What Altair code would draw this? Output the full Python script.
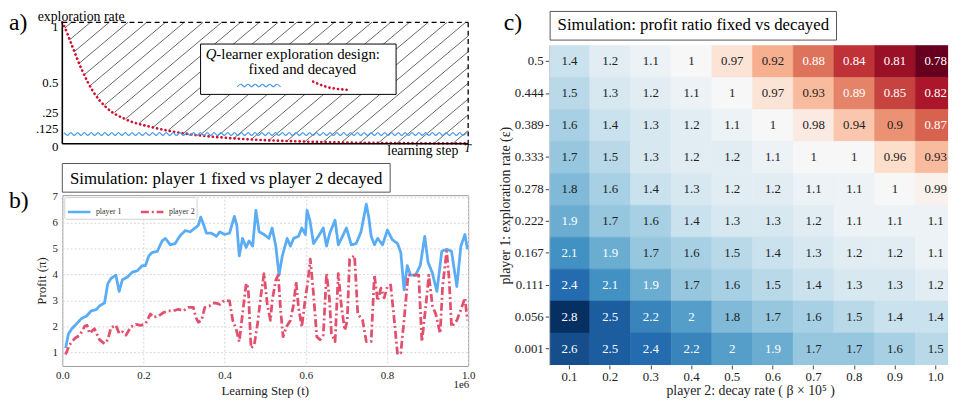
import altair as alt
import numpy as np
import pandas as pd

SERIF = "Liberation Serif"
BLUE = "#5aacf5"
RED = "#e2506e"
DOT_RED = "#d0102e"
WAVE_BLUE = "#4a98e6"

# ---------------- panel a: schematic of exploration designs ----------------
decay_x = [0.0, 0.003, 0.023, 0.048, 0.076, 0.108, 0.157, 0.222, 0.30, 0.416, 0.578, 0.74, 1.0]
decay_eps = [1.0, 0.98, 0.815, 0.61, 0.43, 0.30, 0.20, 0.136, 0.085, 0.046, 0.02, 0.008, 0.003]
fixed_eps = 0.08
a_tick_vals = [1, 0.5, 0.25, 0.125, 0]
a_tick_text = ["1", "0.5", ".25", ".125", "0"]

# ---------------- panel b: simulated profits ----------------
p1_t = [0.008, 0.015, 0.023, 0.035, 0.047, 0.06, 0.071, 0.084, 0.092, 0.104,
        0.112, 0.12, 0.132, 0.14, 0.148, 0.16, 0.173, 0.185, 0.197, 0.205,
        0.213, 0.221, 0.234, 0.246, 0.254, 0.266, 0.278, 0.29, 0.303, 0.315,
        0.327, 0.335, 0.341, 0.347, 0.355, 0.367, 0.38, 0.388, 0.4, 0.412,
        0.424, 0.43, 0.436, 0.444, 0.453, 0.46, 0.469, 0.477, 0.485, 0.497,
        0.509, 0.517, 0.526, 0.534, 0.542, 0.554, 0.562, 0.57, 0.582, 0.59,
        0.599, 0.603, 0.61, 0.619, 0.631, 0.643, 0.651, 0.659, 0.672, 0.68,
        0.688, 0.7, 0.712, 0.724, 0.736, 0.749, 0.755, 0.761, 0.769, 0.777,
        0.789, 0.801, 0.813, 0.826, 0.834, 0.842, 0.85, 0.858, 0.87, 0.882,
        0.893, 0.901, 0.911, 0.923, 0.935, 0.947, 0.959, 0.972, 0.982, 0.992,
        0.998]
p1_v = [1.16, 1.7, 1.9, 2.1, 2.3, 2.4, 2.6, 2.65, 2.8, 2.9,
        3.65, 3.85, 3.98, 3.35, 3.8, 3.9, 4.1, 4.15, 4.35, 4.35,
        4.72, 4.85, 4.9, 5.3, 5.4, 5.15, 5.2, 5.5, 5.7, 5.65,
        5.8, 5.9, 6.22, 5.98, 5.6, 5.6, 5.48, 5.65, 5.55, 5.6,
        6.25, 5.9, 4.72, 5.4, 5.05, 5.3, 5.1, 6.48, 5.65, 5.55,
        5.4, 5.8, 5.1, 3.98, 4.72, 5.4, 5.1, 5.4, 5.48, 5.8,
        5.55, 6.48, 6.1, 5.2, 5.48, 5.8, 5.1, 5.6, 6.1, 5.15,
        5.4, 5.8, 5.15, 5.2, 5.65, 6.72, 6.22, 5.48, 5.15, 5.4,
        5.15, 5.72, 5.35, 5.2, 4.85, 3.41, 4.35, 3.98, 3.98, 4.35,
        5.48, 4.48, 4.1, 3.35, 4.9, 4.98, 4.9, 3.54, 5.1, 5.55,
        4.98]
p2_t = [0.008, 0.018, 0.031, 0.043, 0.055, 0.061, 0.067, 0.079, 0.092, 0.104,
        0.112, 0.12, 0.132, 0.14, 0.148, 0.157, 0.169, 0.181, 0.193, 0.205,
        0.217, 0.225, 0.238, 0.25, 0.262, 0.274, 0.286, 0.298, 0.311, 0.323,
        0.329, 0.335, 0.343, 0.351, 0.363, 0.376, 0.388, 0.4, 0.412, 0.42,
        0.428, 0.436, 0.444, 0.453, 0.458, 0.465, 0.473, 0.481, 0.489, 0.497,
        0.505, 0.513, 0.517, 0.526, 0.532, 0.538, 0.544, 0.552, 0.562, 0.57,
        0.576, 0.582, 0.59, 0.599, 0.605, 0.611, 0.619, 0.627, 0.635, 0.643,
        0.651, 0.658, 0.663, 0.672, 0.68, 0.688, 0.696, 0.702, 0.708, 0.72,
        0.728, 0.74, 0.749, 0.761, 0.769, 0.777, 0.785, 0.793, 0.801, 0.809,
        0.818, 0.826, 0.834, 0.842, 0.852, 0.866, 0.878, 0.886, 0.896, 0.903,
        0.912, 0.92, 0.931, 0.937, 0.947, 0.953, 0.959, 0.972, 0.984, 0.992,
        0.998]
p2_v = [0.91, 1.29, 1.54, 1.66, 2.0, 2.04, 1.73, 1.91, 1.48, 1.33,
        1.48, 1.95, 2.04, 1.73, 1.79, 1.66, 1.98, 2.08, 2.04, 2.1,
        2.48, 2.35, 2.41, 2.54, 2.6, 2.6, 2.66, 2.6, 2.73, 2.73,
        2.35, 2.16, 2.23, 2.73, 2.79, 2.91, 2.85, 3.01, 2.98, 2.23,
        1.91, 1.41, 2.48, 3.66, 3.48, 1.16, 1.29, 2.1, 3.16, 4.04,
        2.85, 2.23, 2.98, 3.79, 3.98, 2.6, 1.6, 1.98, 2.23, 2.85,
        3.73, 2.73, 1.98, 3.1, 3.73, 4.6, 3.23, 1.6, 1.48, 1.66,
        4.04, 3.1, 1.73, 1.41, 4.04, 2.73, 1.85, 2.23, 4.6, 4.73,
        2.48, 2.23, 1.41, 1.41, 3.98, 2.98, 3.48, 3.1, 3.54, 3.6,
        2.23, 0.91, 0.98, 2.23, 3.98, 3.98, 3.98, 1.41, 2.85, 3.98,
        2.79, 2.48, 1.73, 3.54, 4.9, 3.85, 1.98, 2.23, 2.73, 3.1,
        2.23]
series_names = ["player 1", "player 2"]
b_xticks = [0.0, 0.2, 0.4, 0.6, 0.8, 1.0]
b_yticks = [1, 2, 3, 4, 5, 6, 7]

# ---------------- panel c: profit ratio heatmap ----------------
eps_labels = ["0.5", "0.444", "0.389", "0.333", "0.278", "0.222", "0.167", "0.111", "0.056", "0.001"]
decay_labels = ["0.1", "0.2", "0.3", "0.4", "0.5", "0.6", "0.7", "0.8", "0.9", "1.0"]
ratio = [
    [1.4, 1.2, 1.1, 1, 0.97, 0.92, 0.88, 0.84, 0.81, 0.78],
    [1.5, 1.3, 1.2, 1.1, 1, 0.97, 0.93, 0.89, 0.85, 0.82],
    [1.6, 1.4, 1.3, 1.2, 1.1, 1, 0.98, 0.94, 0.9, 0.87],
    [1.7, 1.5, 1.3, 1.2, 1.2, 1.1, 1, 1, 0.96, 0.93],
    [1.8, 1.6, 1.4, 1.3, 1.2, 1.2, 1.1, 1.1, 1, 0.99],
    [1.9, 1.7, 1.6, 1.4, 1.3, 1.3, 1.2, 1.1, 1.1, 1.1],
    [2.1, 1.9, 1.7, 1.6, 1.5, 1.4, 1.3, 1.2, 1.2, 1.1],
    [2.4, 2.1, 1.9, 1.7, 1.6, 1.5, 1.4, 1.3, 1.3, 1.2],
    [2.8, 2.5, 2.2, 2, 1.8, 1.7, 1.6, 1.5, 1.4, 1.4],
    [2.6, 2.5, 2.4, 2.2, 2, 1.9, 1.7, 1.7, 1.6, 1.5],
]
rdbu = ["#67001f", "#b2182b", "#d6604d", "#f4a582", "#fddbc7", "#f7f7f7",
        "#d1e5f0", "#92c5de", "#4393c3", "#2166ac", "#053061"]
c_min, c_mid, c_max = 0.78, 1.0, 2.8

# ======================= layout constants =======================
AW, AH = 411, 123
BW, BH = 411, 173
CW, CH = 404, 347
C_RANGE = 412
C_TOP = 23.5
TOP = -12

one = pd.DataFrame({"k": [0]})


def txt(s, x, y, size, align="left", style="normal", color="black", baseline="alphabetic"):
    return alt.Chart(one).mark_text(
        text=s, font=SERIF, fontSize=size, align=align, baseline=baseline,
        fontStyle=style, color=color
    ).encode(x=alt.value(x), y=alt.value(y))


def box(x1, x2, y1, y2, stroke="black"):
    return alt.Chart(one).mark_rect(fill="white", stroke=stroke, strokeWidth=1).encode(
        x=alt.value(x1), x2=alt.value(x2), y=alt.value(y1), y2=alt.value(y2))


def anchor(x1, x2, y1, y2):
    # invisible layout anchor, fixes the panel's outer bounds
    return alt.Chart(one).mark_rule(strokeOpacity=0, strokeWidth=1).encode(
        x=alt.value(x1), x2=alt.value(x2), y=alt.value(y1), y2=alt.value(y2))


# ---------- panel a ----------
xa = alt.Scale(domain=[0, 1], nice=False, zero=False)
ya = alt.Scale(domain=[0, 1], nice=False, zero=False)

# hatch pattern above the decay curve (decoration derived from the curve)
gx = np.linspace(0, 1, 3001)
gc = np.interp(gx, decay_x, decay_eps) * AH
gpx = gx * AW
slope, gap = 0.84, 19
segs = []
for c0 in np.arange(-AH / slope + gap * 0.5, AW, gap):
    ly = slope * (gpx - c0)
    above = np.nonzero(ly >= gc)[0]
    if len(above) == 0:
        continue
    xs, ys = gpx[above[0]], ly[above[0]]
    xe = min(c0 + AH / slope, AW)
    ye = slope * (xe - c0)
    if xe - xs < 2:
        continue
    segs.append(dict(x1=xs / AW, y1=ys / AH, x2=xe / AW, y2=ye / AH))
hatch_df = pd.DataFrame(segs)

n_half = 118
wave_df = pd.DataFrame({
    "x": np.linspace(0.004, 0.996, n_half + 1),
    "e": [fixed_eps + (0.011 if i % 2 == 0 else -0.011) for i in range(n_half + 1)],
})
decay_df = pd.DataFrame({"x": decay_x, "e": decay_eps})
atick_df = pd.DataFrame({"v": a_tick_vals, "t": a_tick_text})

# legend samples (pixel layout -> data coords)
lw_px = np.linspace(177, 221, 13)
legwave_df = pd.DataFrame({
    "x": lw_px / AW,
    "e": [1 - (64 + (1.3 if i % 2 == 0 else -1.3)) / AH for i in range(13)],
})
legred_df = pd.DataFrame({
    "x": np.array([254, 262, 270, 279, 288]) / AW,
    "e": 1 - np.array([60, 63.5, 66, 67.5, 68.3]) / AH,
})

hatch = alt.Chart(hatch_df).mark_rule(color="black", strokeWidth=0.6).encode(
    x=alt.X("x1:Q", scale=xa, axis=None), y=alt.Y("y1:Q", scale=ya, axis=None),
    x2="x2:Q", y2="y2:Q")
decay_line = alt.Chart(decay_df).mark_line(
    color=DOT_RED, strokeWidth=2.7, strokeDash=[0.1, 4.3], strokeCap="round", interpolate="monotone"
).encode(x=alt.X("x:Q", scale=xa, axis=None), y=alt.Y("e:Q", scale=ya, axis=None))
wave_line = alt.Chart(wave_df).mark_line(color=WAVE_BLUE, strokeWidth=1.2, interpolate="monotone").encode(
    x=alt.X("x:Q", scale=xa, axis=None), y=alt.Y("e:Q", scale=ya, axis=None))
left_rule = alt.Chart(one).mark_rule(color="black", strokeWidth=1.6).encode(
    x=alt.value(0), y=alt.value(0), y2=alt.value(AH))
bottom_rule = alt.Chart(one).mark_rule(color="black", strokeWidth=1.6).encode(
    x=alt.value(0), x2=alt.value(AW), y=alt.value(AH))
top_rule = alt.Chart(one).mark_rule(color="black", strokeWidth=1.3, strokeDash=[5, 3.5]).encode(
    x=alt.value(0), x2=alt.value(AW), y=alt.value(0))
right_rule = alt.Chart(one).mark_rule(color="black", strokeWidth=1.3, strokeDash=[5, 3.5]).encode(
    x=alt.value(AW), y=alt.value(0), y2=alt.value(AH))
leg_box = box(140, 338, 22, 73)
leg_wave = alt.Chart(legwave_df).mark_line(color=WAVE_BLUE, strokeWidth=1.2, interpolate="monotone").encode(
    x=alt.X("x:Q", scale=xa, axis=None), y=alt.Y("e:Q", scale=ya, axis=None))
leg_red = alt.Chart(legred_df).mark_line(
    color=DOT_RED, strokeWidth=2.7, strokeDash=[0.1, 4.3], strokeCap="round", interpolate="monotone"
).encode(x=alt.X("x:Q", scale=xa, axis=None), y=alt.Y("e:Q", scale=ya, axis=None))


def a_tick_layer(df, dy):
    return alt.Chart(df).mark_text(font=SERIF, fontSize=13, align="right", baseline="middle", dy=dy).encode(
        x=alt.value(-4), y=alt.Y("v:Q", scale=ya, axis=None), text="t:N")


a_ticks_top = a_tick_layer(atick_df[atick_df["v"] == 1], 5)
a_ticks_mid = a_tick_layer(atick_df[(atick_df["v"] > 0) & (atick_df["v"] < 1)], 0)
a_ticks_bot = a_tick_layer(atick_df[atick_df["v"] == 0], 3)

chart_a = alt.layer(
    anchor(0, 1, TOP, TOP), anchor(AW + 12, AW + 12, 0, 1), anchor(0, 1, AH + 14, AH + 14),
    anchor(-54, -54, 0, 1),
    hatch, decay_line, wave_line, left_rule, bottom_rule, top_rule, right_rule,
    leg_box, leg_wave, leg_red, a_ticks_top, a_ticks_mid, a_ticks_bot,
    txt("exploration rate", -25, -1, 14),
    txt("learning step", 401, AH + 11, 14, align="right"),
    txt("T", 407, AH + 8, 12, style="italic"),
    txt("Q", 156, 37, 15, align="right", style="italic"),
    txt("-learner exploration design:", 156, 37, 15),
    txt("fixed and decayed", 243, 52, 15, align="center"),
    txt("a)", -54, 8, 24),
).properties(width=AW, height=AH, view=alt.ViewBackground(stroke=None))

# ---------- panel b ----------
b_df = pd.concat([
    pd.DataFrame({"t": p1_t, "p": p1_v, "series": series_names[0]}),
    pd.DataFrame({"t": p2_t, "p": p2_v, "series": series_names[1]}),
])
leg = alt.Legend(orient="top-left", direction="horizontal", title=None, offset=2,
                 labelFont=SERIF, labelFontSize=8, labelColor="#333",
                 symbolType="stroke", symbolSize=520, symbolStrokeWidth=2.5,
                 columnPadding=14, padding=2, fillColor="white", strokeColor="#d0d0d0",
                 cornerRadius=2)
b_lines = alt.Chart(b_df).mark_line(strokeWidth=2.8, strokeJoin="round").encode(
    x=alt.X("t:Q", scale=alt.Scale(domain=[0, 1], nice=False, zero=False),
            axis=alt.Axis(values=b_xticks, format=".1f", title=None,
                          grid=True, gridDash=[2, 2], gridColor="#d6d6d6", domain=False, ticks=False,
                          labelFont=SERIF, labelFontSize=11, labelPadding=4, labelFlush=False,
                          labelColor="#222")),
    y=alt.Y("p:Q", scale=alt.Scale(domain=[0.47, 7.07], nice=False, zero=False),
            axis=alt.Axis(values=b_yticks, format="d", title="Profit (π)",
                          grid=True, gridDash=[2, 2], gridColor="#d6d6d6", domain=False, ticks=False,
                          labelFont=SERIF, labelFontSize=11, labelPadding=5,
                          titleFont=SERIF, titleFontSize=13, titleFontWeight="normal", titlePadding=4,
                          labelColor="#222", titleColor="#222")),
    color=alt.Color("series:N", scale=alt.Scale(domain=series_names, range=[BLUE, RED]), legend=leg),
    strokeDash=alt.StrokeDash("series:N", scale=alt.Scale(domain=series_names, range=[[1, 0], [8, 3, 2, 3]]),
                              legend=leg),
)
chart_b = alt.layer(
    anchor(0, 1, -34, -34), anchor(-54, -54, 0, 1), anchor(AW + 12, AW + 12, 0, 1),
    b_lines,
    box(0, 332, -32, -3, stroke="#555"),
    txt("Simulation: player 1 fixed vs player 2 decayed", 166, -11, 17, align="center"),
    txt("1e6", BW + 1, BH + 22, 11, align="right", color="#222"),
    txt("Learning Step (t)", BW / 2, BH + 29, 13, align="center", color="#222"),
    txt("b)", -54, 13, 24),
).properties(width=BW, height=BH, view=alt.ViewBackground(stroke="#9a9a9a", strokeWidth=1))

# ---------- panel c ----------
rows = []
for i, e in enumerate(eps_labels):
    for j, d in enumerate(decay_labels):
        rows.append({"eps": e, "decay": d, "v": ratio[i][j]})
c_df = pd.DataFrame(rows)
stops = [c_min + k * (c_mid - c_min) / 5 for k in range(6)] + [c_mid + k * (c_max - c_mid) / 5 for k in range(1, 6)]
cscale = alt.Scale(domain=stops, range=rdbu, interpolate="rgb")

c_base = alt.Chart(c_df).encode(
    x=alt.X("decay:N", sort=decay_labels,
            scale=alt.Scale(range=[0, C_RANGE], paddingInner=0, paddingOuter=0),
            axis=alt.Axis(title=None, labelAngle=0, domain=False,
                          tickSize=4, tickColor="#444", labelFont=SERIF, labelFontSize=13,
                          labelPadding=2, labelColor="#222")),
    y=alt.Y("eps:N", sort=eps_labels,
            scale=alt.Scale(range=[C_TOP, CH], paddingInner=0, paddingOuter=0),
            axis=alt.Axis(title="player 1: exploration rate (ε)", domain=True, domainColor="#cccccc",
                          tickSize=4, tickColor="#444", labelFont=SERIF, labelFontSize=13,
                          labelPadding=2, titleFont=SERIF, titleFontSize=14, titleFontWeight="normal",
                          titlePadding=2, labelColor="#222", titleColor="#222")),
)
c_rect = c_base.mark_rect(clip=True, strokeWidth=0.6).encode(
    color=alt.Color("v:Q", scale=cscale, legend=None),
    stroke=alt.Stroke("v:Q", scale=cscale, legend=None))
c_text = c_base.mark_text(font=SERIF, fontSize=13).encode(
    text=alt.Text("v:Q", format=".2~g"),
    color=alt.condition("datum.v >= 1.85 || datum.v < 0.895", alt.value("white"), alt.value("#222")))
chart_c = alt.layer(
    anchor(0, 1, TOP, TOP), anchor(-56, -56, C_TOP, C_TOP + 1),
    c_rect, c_text,
    box(1, 291, -11, 18, stroke="#555"),
    txt("Simulation: profit ratio fixed vs decayed", 146, 8, 17, align="center"),
    txt("player 2: decay rate ( β × 10⁵ )", 204, CH + 30, 14, align="center", color="#222"),
    txt("c)", -46, 8, 24),
).properties(width=CW, height=CH, view=alt.ViewBackground(stroke=None))

left = alt.vconcat(chart_a, chart_b, spacing=3).resolve_scale(color="independent", strokeDash="independent")
chart = alt.hconcat(left, chart_c, spacing=13).resolve_scale(
    color="independent", strokeDash="independent", stroke="independent").properties(padding=0)
chart = chart.configure_view(stroke=None).configure(font=SERIF)

chart.save("out.html", embed_options={"renderer": "svg", "actions": False})
